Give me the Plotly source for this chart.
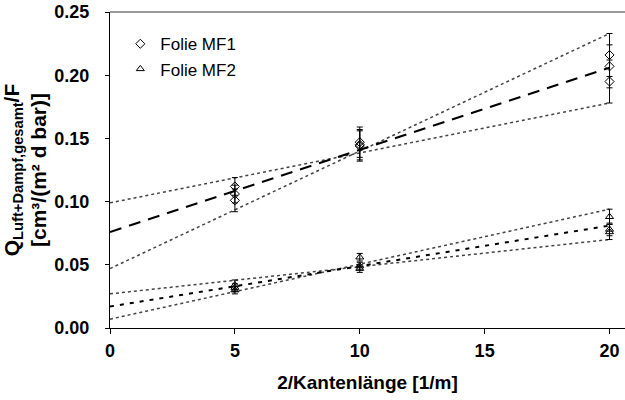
import plotly.graph_objects as go

# Measured points
mf1_x = [5, 5, 5, 10, 10, 10, 20, 20, 20]
mf1_y = [0.112, 0.106, 0.101, 0.147, 0.145, 0.144, 0.216, 0.207, 0.195]
mf1_err = [0.007, 0.007, 0.009, 0.012, 0.012, 0.012, 0.017, 0.017, 0.017]

mf2_x = [5, 5, 5, 10, 10, 10, 20, 20, 20]
mf2_y = [0.034, 0.032, 0.030, 0.056, 0.049, 0.047, 0.088, 0.078, 0.076]
mf2_err = [0.004, 0.003, 0.003, 0.003, 0.003, 0.003, 0.006, 0.005, 0.006]

# Regression and bounding lines (endpoints at x=0 and x=20)
line_x = [0, 20]
mf1_fit = [0.076, 0.206]
mf1_upper0 = [0.099, 0.178]
mf1_lower0 = [0.047, 0.233]
mf2_fit = [0.017, 0.081]
mf2_upper0 = [0.027, 0.070]
mf2_lower0 = [0.007, 0.094]

x_ticks = [0, 5, 10, 15, 20]
y_ticks = [0.00, 0.05, 0.10, 0.15, 0.20, 0.25]

FONT = "Liberation Sans, Arial, sans-serif"

fig = go.Figure()

dot_style = dict(color="#444444", width=1.5, dash="dot")
for ys in (mf1_upper0, mf1_lower0, mf2_upper0, mf2_lower0):
    fig.add_trace(go.Scatter(x=line_x, y=ys, mode="lines", line=dot_style,
                             showlegend=False, hoverinfo="skip", cliponaxis=False))

fig.add_trace(go.Scatter(x=line_x, y=mf1_fit, mode="lines",
                         line=dict(color="black", width=2, dash="12px,8px"),
                         showlegend=False, cliponaxis=False))
fig.add_trace(go.Scatter(x=line_x, y=mf2_fit, mode="lines",
                         line=dict(color="black", width=2, dash="4px,6px"),
                         showlegend=False, cliponaxis=False))

fig.add_trace(go.Scatter(
    x=mf1_x, y=mf1_y, mode="markers", name="Folie MF1", cliponaxis=False,
    marker=dict(symbol="diamond-open", size=7, color="black", line=dict(width=1)),
    error_y=dict(type="data", array=mf1_err, color="black", thickness=1, width=3),
))
fig.add_trace(go.Scatter(
    x=mf2_x, y=mf2_y, mode="markers", name="Folie MF2", cliponaxis=False,
    marker=dict(symbol="triangle-up-open", size=7, color="black", line=dict(width=1)),
    error_y=dict(type="data", array=mf2_err, color="black", thickness=1, width=3),
))

fig.add_shape(type="line", xref="paper", yref="paper", x0=0, x1=1, y0=1, y1=1,
              layer="above", line=dict(color="#999999", width=2))

fig.update_layout(
    width=625, height=400,
    margin=dict(l=110, r=0, t=12, b=72, autoexpand=False),
    plot_bgcolor="white", paper_bgcolor="white",
    font=dict(family=FONT, color="black"),
    legend=dict(x=0.02, y=0.955, xanchor="left", yanchor="top",
                bgcolor="rgba(0,0,0,0)", font=dict(size=17, family=FONT),
                itemwidth=30, tracegroupgap=0),
    xaxis=dict(
        range=[0, 20.62], tickvals=x_ticks, ticks="outside", ticklen=5,
        tickcolor="black", showline=True, linecolor="black", linewidth=1,
        showgrid=False, zeroline=False, ticklabelstandoff=1, automargin=False,
        tickfont=dict(size=18, family=FONT, weight="bold"),
        title=dict(text="2/Kantenlänge [1/m]", standoff=16,
                   font=dict(size=19, family=FONT, weight="bold")),
    ),
    yaxis=dict(
        range=[0, 0.25], tickvals=y_ticks, tickformat=".2f", ticks="outside",
        ticklen=4, tickcolor="black", showline=True, linecolor="black",
        linewidth=1, showgrid=False, zeroline=False, ticklabelstandoff=12,
        automargin=False, ticklabeloverflow="allow",
        tickfont=dict(size=18, family=FONT, weight="bold"),
        title=dict(text="Q<sub>Luft+Dampf,gesamt</sub>/F<br>[cm³/(m² d bar)]",
                   standoff=12, font=dict(size=21, family=FONT, weight="bold")),
    ),
)

fig.write_html("out.html",
               config={"displayModeBar": False},
               post_script="document.body.style.margin='0px';")
